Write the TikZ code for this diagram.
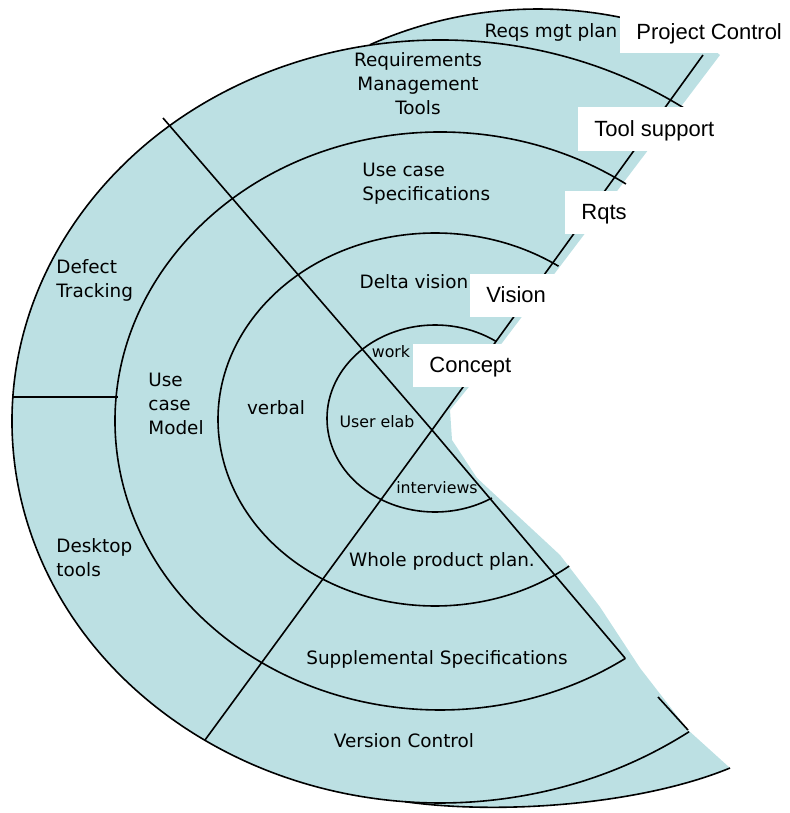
\documentclass[tikz,border=0pt]{standalone}
\usepackage{fontspec}
\usepackage{tikz}
\newfontfamily\labelfont{DejaVu Sans}
\newfontfamily\stagefont{Liberation Sans}
\definecolor{spiralblue}{RGB}{188,224,227}

\begin{document}
\begin{tikzpicture}[x=0.5pt,y=-0.5pt,
  ring/.style={line width=0.8pt},
  lbl/.style={font=\labelfont\fontsize{9.2}{12}\selectfont,inner sep=0pt},
  smalllbl/.style={font=\labelfont\fontsize{7.9}{10}\selectfont,inner sep=0pt},
  stage/.style={font=\stagefont\fontsize{11}{13}\selectfont,fill=white,anchor=west,
    inner xsep=8pt,inner ysep=0pt,text height=7.9pt,text depth=0pt,minimum height=21.5pt}]
\useasboundingbox (0,0) rectangle (790,813);
\coordinate (hub) at (432,430);
\fill[spiralblue] (538,422) ++(294.5:413) arc[start angle=294.5, end angle=246, radius=413]
  arc[start angle=260.6, end angle=94.7, x radius=428, y radius=381.5]
  .. controls (500,815) and (640,805) .. (730,768)
  -- (688,730) -- (640,668) -- (600,607) -- (560,555) -- (477,478) -- (452,440)
  -- (450,410) -- (468,388) -- (720,55) -- cycle;
\draw[ring] (435,418.5) ++(304.2:108 and 93.5) arc[start angle=304.2, end angle=58.2, x radius=108, y radius=93.5];
\draw[ring] (435,419.5) ++(304.7:217 and 186.5) arc[start angle=304.7, end angle=51.8, x radius=217, y radius=186.5];
\draw[ring] (440,421) ++(304.9:325 and 289) arc[start angle=304.9, end angle=55.2, x radius=325, y radius=289];
\draw[ring] (440,421.5) ++(305.1:428 and 381.5) arc[start angle=305.1, end angle=54.4, x radius=428, y radius=381.5];
\draw[ring] (538,422) ++(246:413) arc[start angle=246, end angle=294.5, radius=413];
\draw[ring] (405,801.7) .. controls (500,815) and (640,805) .. (730,768);
\draw[ring] (163,118) -- (hub) -- (625,658);
\draw[ring] (658,697) -- (688,730);
\draw[ring] (205,740) -- (hub) -- (703,55);
\draw[ring] (12,397) -- (118,397);
\node[lbl] (reqsplan) at (551,32) {Reqs mgt plan};
\node[lbl,align=center] (rmtools) at (418,84) {Requirements\\Management\\Tools};
\node[lbl,align=left,anchor=west] (ucspec) at (362,184) {Use case\\Specifications};
\node[lbl] (delta) at (414,282) {Delta vision};
\node[smalllbl] (work) at (391,352) {work};
\node[smalllbl] (userelab) at (377,422) {User elab};
\node[smalllbl] (interviews) at (437,488) {interviews};
\node[lbl] (verbal) at (276,408) {verbal};
\node[lbl,align=left,anchor=west] (ucmodel) at (148,404) {Use\\case\\Model};
\node[lbl,align=left,anchor=west] (defect) at (56,280) {Defect\\Tracking};
\node[lbl,align=left,anchor=west] (desktop) at (56,558) {Desktop\\tools};
\node[lbl] (wholeplan) at (442,561) {Whole product plan.};
\node[lbl] (suppspec) at (437,659) {Supplemental Specifications};
\node[lbl] (version) at (404,741) {Version Control};
\node[stage] (project) at (620,31.5) {Project Control};
\node[stage] (toolsup) at (578,129) {Tool support};
\node[stage] (rqts) at (565,212) {Rqts};
\node[stage] (vision) at (470,295) {Vision};
\node[stage] (concept) at (413,365) {Concept};
\end{tikzpicture}
\end{document}
